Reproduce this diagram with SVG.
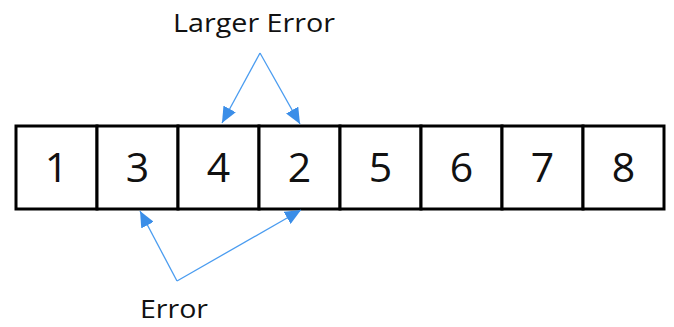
<svg xmlns="http://www.w3.org/2000/svg" width="674" height="327" viewBox="0 0 674 327">
  <style>
    .cell { fill: #ffffff; stroke: #000000; stroke-width: 3; }
    .num { font-family: "Open Sans", "Liberation Sans", Arial, sans-serif; font-size: 41px; fill: #111111; text-anchor: middle; }
    .label { font-family: "Open Sans", "Liberation Sans", Arial, sans-serif; font-size: 26px; fill: #111111; text-anchor: middle; }
    .conn { fill: none; stroke: #4a9cf0; stroke-width: 1.3; }
  </style>
  <defs>
    <marker id="arrow" markerUnits="userSpaceOnUse" markerWidth="18" markerHeight="14" refX="16" refY="7" orient="auto">
      <path d="M0,0 L16,7 L0,14 Z" fill="#3b8ee8"/>
    </marker>
  </defs>
  <rect width="674" height="327" fill="#ffffff"/>

  <!-- array cells -->
  <g id="cell-1"><rect class="cell" x="16" y="126" width="81" height="83"/><text class="num" x="56.5" y="182">1</text></g>
  <g id="cell-2"><rect class="cell" x="97" y="126" width="81" height="83"/><text class="num" x="137.5" y="182">3</text></g>
  <g id="cell-3"><rect class="cell" x="178" y="126" width="81" height="83"/><text class="num" x="218.5" y="182">4</text></g>
  <g id="cell-4"><rect class="cell" x="259" y="126" width="81" height="83"/><text class="num" x="299.5" y="182">2</text></g>
  <g id="cell-5"><rect class="cell" x="340" y="126" width="81" height="83"/><text class="num" x="380.5" y="182">5</text></g>
  <g id="cell-6"><rect class="cell" x="421" y="126" width="81" height="83"/><text class="num" x="461.5" y="182">6</text></g>
  <g id="cell-7"><rect class="cell" x="502" y="126" width="81" height="83"/><text class="num" x="542.5" y="182">7</text></g>
  <g id="cell-8"><rect class="cell" x="583" y="126" width="81" height="83"/><text class="num" x="623.5" y="182">8</text></g>

  <!-- labels -->
  <g id="label-larger"><text class="label" x="254" y="32" textLength="162" lengthAdjust="spacingAndGlyphs">Larger Error</text></g>
  <g id="label-error"><text class="label" x="174" y="318" textLength="68" lengthAdjust="spacingAndGlyphs">Error</text></g>

  <!-- connectors -->
  <g id="connectors">
    <line class="conn" x1="260" y1="53" x2="222" y2="123" marker-end="url(#arrow)"/>
    <line class="conn" x1="260" y1="53" x2="300" y2="124" marker-end="url(#arrow)"/>
    <line class="conn" x1="177" y1="281" x2="140" y2="211" marker-end="url(#arrow)"/>
    <line class="conn" x1="177" y1="281" x2="301" y2="210" marker-end="url(#arrow)"/>
  </g>
</svg>
